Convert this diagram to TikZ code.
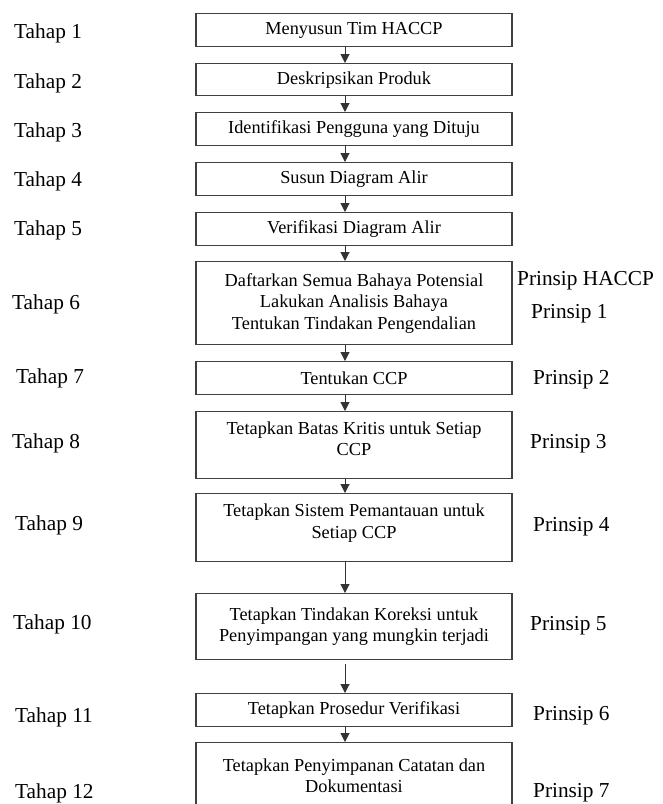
\documentclass[tikz,border=0pt]{standalone}
\usepackage{fontspec}
\setmainfont{Liberation Serif}
\usetikzlibrary{arrows.meta}
\begin{document}
\begin{tikzpicture}[x=1pt,y=-1pt,
  stepbox/.style={draw=black!75,line width=1.3pt,fill=white,inner sep=0pt,
    minimum width=316pt,anchor=north,align=center,
    font=\fontsize{18.3}{21.5}\selectfont},
  side/.style={anchor=base west,inner sep=0pt,font=\fontsize{21.3}{24}\selectfont},
  arr/.style={line width=1pt,draw=black!80,-{Triangle[length=9pt,width=9pt]}}]
\clip (0,0) rectangle (662,804);
\fill[white] (0,0) rectangle (662,804);

% flow line position
\coordinate (axis) at (345,0);

% process boxes
\node[stepbox,minimum height=33pt] (b1) at (354,13) {Menyusun Tim HACCP};
\node[stepbox,minimum height=32pt] (b2) at (354,63) {Deskripsikan Produk};
\node[stepbox,minimum height=33pt] (b3) at (354,112) {Identifikasi Pengguna yang Dituju};
\node[stepbox,minimum height=33pt] (b4) at (354,162) {Susun Diagram Alir};
\node[stepbox,minimum height=33pt] (b5) at (354,212) {Verifikasi Diagram Alir};
\node[stepbox,minimum height=83pt] (b6) at (354,261) {Daftarkan Semua Bahaya Potensial\\Lakukan Analisis Bahaya\\Tentukan Tindakan Pengendalian};
\node[stepbox,minimum height=33pt] (b7) at (354,361) {Tentukan CCP};
\node[stepbox,minimum height=67pt] (b8) at (354,411) {Tetapkan Batas Kritis untuk Setiap\\CCP\\[-8pt]};
\node[stepbox,minimum height=68pt] (b9) at (354,493) {Tetapkan Sistem Pemantauan untuk\\Setiap CCP\\[-8pt]};
\node[stepbox,minimum height=66pt] (b10) at (354,593) {Tetapkan Tindakan Koreksi untuk\\Penyimpangan yang mungkin terjadi};
\node[stepbox,minimum height=33pt] (b11) at (354,693) {Tetapkan Prosedur Verifikasi};
\node[stepbox,minimum height=66pt] (b12) at (354,742) {Tetapkan Penyimpanan Catatan dan\\Dokumentasi};

% connectors
\draw[arr] (b1.south -| axis) -- (b2.north -| axis);
\draw[arr] (b2.south -| axis) -- (b3.north -| axis);
\draw[arr] (b3.south -| axis) -- (b4.north -| axis);
\draw[arr] (b4.south -| axis) -- (b5.north -| axis);
\draw[arr] (b5.south -| axis) -- (b6.north -| axis);
\draw[arr] (b6.south -| axis) -- (b7.north -| axis);
\draw[arr] (b7.south -| axis) -- (b8.north -| axis);
\draw[arr] (b8.south -| axis) -- (b9.north -| axis);
\draw[arr] (b9.south -| axis) -- (b10.north -| axis);
\draw[arr,shorten <=4pt] (b10.south -| axis) -- (b11.north -| axis);
\draw[arr] (b11.south -| axis) -- (b12.north -| axis);

% stage labels
\node[side] (t1) at (14,38) {Tahap 1};
\node[side] (t2) at (14,88) {Tahap 2};
\node[side] (t3) at (14,137) {Tahap 3};
\node[side] (t4) at (14,186) {Tahap 4};
\node[side] (t5) at (14,235) {Tahap 5};
\node[side] (t6) at (12,309) {Tahap 6};
\node[side] (t7) at (16,383) {Tahap 7};
\node[side] (t8) at (12,448) {Tahap 8};
\node[side] (t9) at (15,530) {Tahap 9};
\node[side] (t10) at (13,629) {Tahap 10};
\node[side] (t11) at (15,722) {Tahap 11};
\node[side] (t12) at (15,798) {Tahap 12};

% principle labels
\node[side] (ph) at (517,285) {Prinsip HACCP};
\node[side] (p1) at (531,318) {Prinsip 1};
\node[side] (p2) at (533,384) {Prinsip 2};
\node[side] (p3) at (530,448) {Prinsip 3};
\node[side] (p4) at (533,531) {Prinsip 4};
\node[side] (p5) at (530,630) {Prinsip 5};
\node[side] (p6) at (533,720) {Prinsip 6};
\node[side] (p7) at (533,797) {Prinsip 7};
\end{tikzpicture}
\end{document}
